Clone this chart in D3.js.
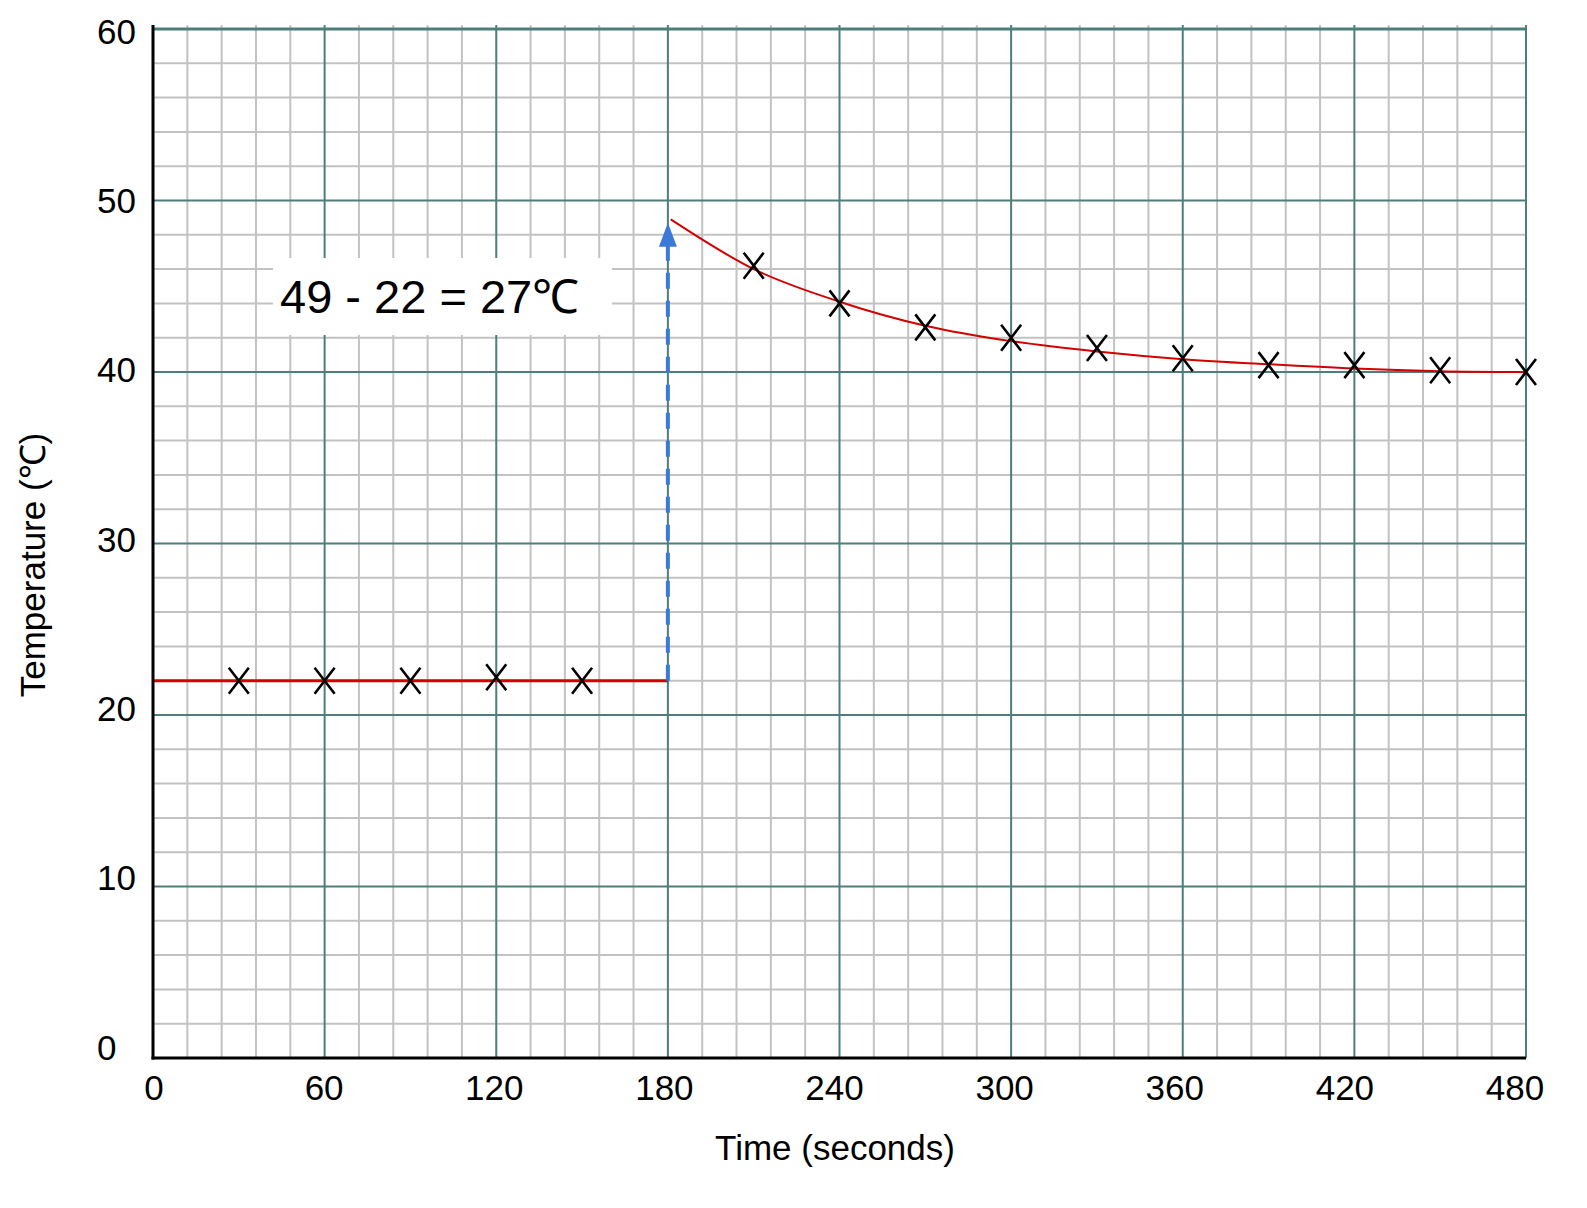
<!DOCTYPE html>
<html>
<head>
<meta charset="utf-8">
<script src="https://cdn.jsdelivr.net/npm/d3@7"></script>
<style>
  html, body { margin: 0; padding: 0; background: #fff; }
  svg { display: block; font-family: "Liberation Sans", Arial, sans-serif; }
</style>
</head>
<body>
<svg id="chart" width="1587" height="1208"></svg>
<script>
// ---- data ----
const xTickValues = [0, 60, 120, 180, 240, 300, 360, 420, 480];
const yTickValues = [0, 10, 20, 30, 40, 50, 60];
const xMinorStep = 12;
const yMinorStep = 2;

const beforeTimes = [30, 60, 90, 120, 150];
const beforeTemps = [22, 22, 22, 22.2, 22];
const afterTimes = [210, 240, 270, 300, 330, 360, 390, 420, 450, 480];
const afterTemps = [46.2, 44.0, 42.6, 42.0, 41.4, 40.8, 40.4, 40.4, 40.1, 40.0];

const baselineTimes = [0, 180];
const baselineTemps = [22, 22];
const curveTimes = [181, 210, 240, 270, 300, 330, 360, 390, 420, 450, 480];
const curveTemps = [48.9, 46.0, 44.1, 42.7, 41.8, 41.2, 40.75, 40.45, 40.2, 40.05, 40.0];

const arrowTime = 180;
const arrowFrom = 22;
const arrowTo = 48.7;
const annotationText = "49 - 22 = 27\u2103";
const xTitle = "Time (seconds)";
const yTitle = "Temperature (\u2103)";

// ---- layout ----
const svg = d3.select("#chart");
const pLeft = 153, pRight = 1526, pTop = 29, pBottom = 1058;
const x = d3.scaleLinear().domain([0, 480]).range([pLeft, pRight]);
const y = d3.scaleLinear().domain([0, 60]).range([pBottom, pTop]);
// tick label placement (labels in the original sit on a slightly tighter spacing)
const xLab = d3.scaleLinear().domain([0, 480]).range([154, 1515]);
const yLab = d3.scaleLinear().domain([0, 60]).range([1047, 31]);

const minorX = d3.range(0, 480 + 0.001, xMinorStep).filter(v => v % 60 !== 0);
const minorY = d3.range(0, 60 + 0.001, yMinorStep).filter(v => v % 10 !== 0);

const gMinor = svg.append("g");
gMinor.append("g").selectAll("line").data(minorX).join("line")
  .attr("x1", d => x(d)).attr("x2", d => x(d))
  .attr("y1", pTop - 4).attr("y2", pBottom)
  .attr("stroke", "#c2c2c2").attr("stroke-width", 2);
gMinor.append("g").selectAll("line").data(minorY).join("line")
  .attr("x1", pLeft).attr("x2", pRight)
  .attr("y1", d => y(d)).attr("y2", d => y(d))
  .attr("stroke", "#c2c2c2").attr("stroke-width", 2);

const gMajor = svg.append("g");
gMajor.append("g").selectAll("line").data(xTickValues).join("line")
  .attr("x1", d => x(d)).attr("x2", d => x(d))
  .attr("y1", pTop - 4).attr("y2", pBottom)
  .attr("stroke", "#4e7e7b").attr("stroke-width", 2);
gMajor.append("g").selectAll("line").data(yTickValues).join("line")
  .attr("x1", pLeft).attr("x2", pRight)
  .attr("y1", d => y(d)).attr("y2", d => y(d))
  .attr("stroke", "#4e7e7b").attr("stroke-width", d => d === 60 ? 3 : 2);

// annotation box
svg.append("rect")
  .attr("x", 273).attr("y", 258).attr("width", 339).attr("height", 77)
  .attr("fill", "#fff");
svg.append("text")
  .attr("x", 280).attr("y", 313)
  .attr("font-size", 47).attr("fill", "#000")
  .text(annotationText);

// red fitted lines
const line = d3.line().x(d => x(d[0])).y(d => y(d[1]));
svg.append("path")
  .datum(d3.zip(baselineTimes, baselineTemps))
  .attr("d", line).attr("fill", "none")
  .attr("stroke", "#d40000").attr("stroke-width", 3);
svg.append("path")
  .datum(d3.zip(curveTimes, curveTemps))
  .attr("d", line.curve(d3.curveMonotoneX)).attr("fill", "none")
  .attr("stroke", "#d40000").attr("stroke-width", 2);

// blue dashed arrow
const ax = x(arrowTime);
const tipY = y(arrowTo);
svg.append("line")
  .attr("x1", ax).attr("x2", ax)
  .attr("y1", y(arrowFrom)).attr("y2", tipY + 20)
  .attr("stroke", "#3c78d8").attr("stroke-width", 4)
  .attr("stroke-dasharray", "16,12");
svg.append("path")
  .attr("d", `M${ax},${tipY} L${ax - 9},${tipY + 24} L${ax + 9},${tipY + 24} Z`)
  .attr("fill", "#3c78d8");

// X markers
const pts = d3.zip(beforeTimes, beforeTemps).concat(d3.zip(afterTimes, afterTemps));
const s = 10, h = 13;
svg.append("g").selectAll("path").data(pts).join("path")
  .attr("d", d => {
    const cx = x(d[0]), cy = y(d[1]);
    return `M${cx - s},${cy - h} L${cx + s},${cy + h} M${cx + s},${cy - h} L${cx - s},${cy + h}`;
  })
  .attr("stroke", "#000").attr("stroke-width", 2.6).attr("fill", "none");

// axes lines
svg.append("line").attr("x1", pLeft).attr("x2", pLeft).attr("y1", pTop - 4).attr("y2", pBottom + 1.5)
  .attr("stroke", "#000").attr("stroke-width", 3);
svg.append("line").attr("x1", pLeft - 1.5).attr("x2", pRight).attr("y1", pBottom).attr("y2", pBottom)
  .attr("stroke", "#000").attr("stroke-width", 3);

// tick labels
svg.append("g").selectAll("text").data(xTickValues).join("text")
  .attr("x", d => xLab(d)).attr("y", 1100)
  .attr("text-anchor", "middle").attr("font-size", 35).attr("fill", "#000")
  .text(d => d);
svg.append("g").selectAll("text").data(yTickValues).join("text")
  .attr("x", 97).attr("y", d => yLab(d))
  .attr("dominant-baseline", "central")
  .attr("font-size", 35).attr("fill", "#000")
  .text(d => d);

// titles
svg.append("text")
  .attr("x", 835).attr("y", 1160)
  .attr("text-anchor", "middle").attr("font-size", 35).attr("fill", "#000")
  .text(xTitle);
svg.append("text")
  .attr("transform", "translate(45,565) rotate(-90)")
  .attr("text-anchor", "middle").attr("font-size", 35).attr("fill", "#000")
  .text(yTitle);
</script>
</body>
</html>
